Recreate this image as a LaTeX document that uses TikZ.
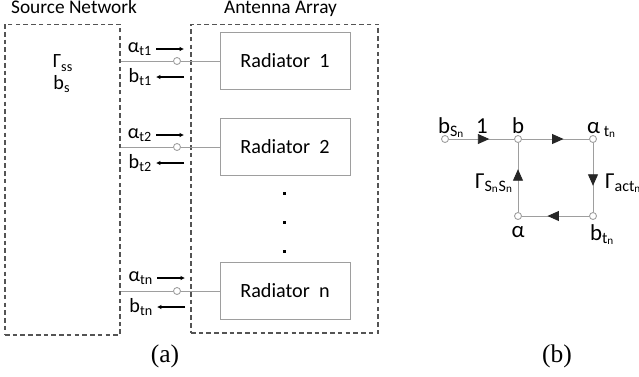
\documentclass[tikz,border=0pt]{standalone}
\usepackage{fontspec}
\setmainfont{Carlito}
\newfontfamily\capfont{Liberation Serif}
\usetikzlibrary{arrows.meta,positioning,decorations.markings}
\definecolor{netgray}{rgb}{0.33,0.33,0.33}
\definecolor{wiregray}{rgb}{0.62,0.62,0.62}

\begin{document}
\begin{tikzpicture}[x=0.02cm, y=-0.02cm,
      lbl/.style={font=\fontsize{11.5}{13}\selectfont, inner sep=1pt},
      head/.style={font=\fontsize{11}{13}\selectfont, inner sep=1pt},
      sfg/.style={font=\fontsize{13}{15}\selectfont, inner sep=1pt},
      net/.style={draw=netgray, dash pattern=on 2.6pt off 1.8pt, line width=0.6pt},
      rad/.style={draw=wiregray, line width=0.5pt,
                  minimum width=2.6cm, minimum height=1.14cm,
                  font=\fontsize{11.5}{13}\selectfont},
      wire/.style={draw=wiregray, line width=0.5pt},
      port/.style={circle, draw=wiregray, fill=white, line width=0.5pt,
                   inner sep=0pt, minimum size=0.14cm},
      wave/.style={-{Latex[length=2.5pt,width=2.6pt]}, line width=1.1pt},
      flow/.style={wire, postaction={decorate},
                   decoration={markings, mark=at position 0.62 with
                     {\arrow[black!85]{Triangle[length=0.23cm,width=0.2cm]}}}},
      dot/.style={fill=black, inner sep=0pt, minimum size=0.06cm},
      subcap/.style={font=\capfont\fontsize{14.5}{16}\selectfont}
  ]
    \useasboundingbox (0,0) rectangle (639,376);

    % (a) source network and antenna array
    \node[net, minimum width=2.3cm, minimum height=6.22cm] (src) at (62.5,179.5) {};
    \node[net, minimum width=3.74cm, minimum height=6.18cm] (arr) at (284.5,178.5) {};
    \node[head, anchor=base] (srcl) at (74,13) {Source Network};
    \node[head, anchor=base] (arrl) at (280.5,13) {Antenna Array};
    \node[lbl] (gss) at (63,63) {Γ\textsubscript{ss}};
    \node[lbl] (bsrc) at (62,84) {b\textsubscript{s}};

    \node[rad] (rad1) at (285,60.5) {Radiator~~1};
    \node[rad] (rad2) at (285,147) {Radiator~~2};
    \node[rad] (radn) at (285,291) {Radiator~~n};

    \node[dot] (d1) at (284,193) {};
    \node[dot] (d2) at (284,222) {};
    \node[dot] (d3) at (284,251) {};

    % feed lines with their ports
    \node[port] (p1) at (177,61) {};
    \node[port] (p2) at (177,147) {};
    \node[port] (pn) at (177,291) {};
    \draw[wire] (src.east |- p1) -- (p1) -- (rad1.west |- p1);
    \draw[wire] (src.east |- p2) -- (p2) -- (rad2.west |- p2);
    \draw[wire] (src.east |- pn) -- (pn) -- (radn.west |- pn);

    % incident and reflected waves
    \coordinate (a1s) at (156,49);  \coordinate (a1e) at (184,49);
    \coordinate (b1s) at (184,77);  \coordinate (b1e) at (156,77);
    \coordinate (a2s) at (156,135); \coordinate (a2e) at (184,135);
    \coordinate (b2s) at (184,163); \coordinate (b2e) at (156,163);
    \coordinate (ans) at (157,278); \coordinate (ane) at (185,278);
    \coordinate (bns) at (185,307); \coordinate (bne) at (157,307);
    \draw[wave] (a1s) -- (a1e); \draw[wave] (b1s) -- (b1e);
    \draw[wave] (a2s) -- (a2e); \draw[wave] (b2s) -- (b2e);
    \draw[wave] (ans) -- (ane); \draw[wave] (bns) -- (bne);
    \node[lbl, left=1pt of a1s] (at1) {α\textsubscript{t1}};
    \node[lbl, left=1pt of b1e] (bt1) {b\textsubscript{t1}};
    \node[lbl, left=1pt of a2s] (at2) {α\textsubscript{t2}};
    \node[lbl, left=1pt of b2e] (bt2) {b\textsubscript{t2}};
    \node[lbl, left=1pt of ans] (atn) {α\textsubscript{tn}};
    \node[lbl, left=1pt of bne] (btn) {b\textsubscript{tn}};

    \node[subcap] (capa) at (165,356) {(a)};

    % (b) signal flow graph
    \node[port] (bs) at (445,139) {};
    \node[port] (bn) at (518,139) {};
    \node[port] (at) at (593,139) {};
    \node[port] (bt) at (593,216) {};
    \node[port] (al) at (518,216) {};
    \draw[flow] (bs) -- (bn);
    \draw[flow] (bn) -- (at);
    \draw[flow] (at) -- (bt);
    \draw[flow] (bt) -- (al);
    \draw[flow] (al) -- (bn);

    \node[sfg, anchor=base west] (bsl) at (436,133) {b\textsubscript{S\textsubscript{n}}};
    \node[sfg, anchor=base] (one) at (482,133) {1};
    \node[sfg, anchor=base] (bnl) at (518,133) {b};
    \node[sfg, anchor=base west] (atl) at (585,133) {α\,\textsubscript{t\textsubscript{n}}};
    \node[sfg, anchor=base west] (gsl) at (473,188) {Γ\textsubscript{S\textsubscript{n}S\textsubscript{n}}};
    \node[sfg, anchor=base west] (gal) at (603,188) {Γ\textsubscript{act\textsubscript{n}}};
    \node[sfg, anchor=base] (all) at (518,237) {α};
    \node[sfg, anchor=base west] (btl) at (588,240) {b\textsubscript{t\textsubscript{n}}};

    \node[subcap] (capb) at (557,356) {(b)};
  \end{tikzpicture}
\end{document}
